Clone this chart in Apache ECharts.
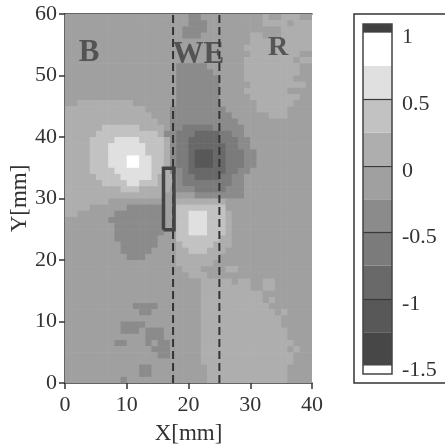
<!DOCTYPE html>
<html><head><meta charset="utf-8">
<style>html,body{margin:0;padding:0;background:#fff}#c{width:445px;height:448px;filter:blur(0.6px)}</style>
<script src="https://cdn.jsdelivr.net/npm/echarts@6/dist/echarts.min.js"></script>
</head><body><div id="c"></div>
<script>
// band edges of the colour scale and the grey of each band (code a..j)
const bandCodes = ['a','b','c','d','e','f','g','h','i','j'];
const bandLow   = [-1.5,-1.25,-1,-0.75,-0.5,-0.25,0,0.25,0.5,0.75];
const bandGrey  = ['#474747','#585858','#696969','#7b7b7b','#8b8b8b','#a0a0a0','#aeaeae','#c2c2c2','#e0e0e0','#ffffff'];
const bandWidth = 0.25;
const overColor = '#404040';
const underColor = '#ffffff';
const scaleTop = 1.065, scaleBottom = -1.5625;
const scaleTicks = [1,0.5,0,-0.5,-1,-1.5];
const xTicks = 10;
const electrodeX = [15.95,17.65,17.65,15.95,15.95];
const electrodeY = [24.9,24.9,34.9,34.9,24.9];
const weLeft = 17.5, weRight = 25;
const regionNames = ['B','WE','R'];
const regionX = [3.9,21.6,34.5];
const regionY = [53.6,53.4,54.5];
const regionSize = [31,31,28];
// measured map, one row per mm from y=59 (top) to y=0, run-length coded per mm in x
const rows = [
'f20 e2 f10 g1 f2 g3 f2','f20 e3 f9 g4 f1 g3','f19 e4 f12 g5','f19 e3 f8 g2 f3 g5','f30 g10','f29 g11',
'f30 g8 f2','f29 g8 f1 g2','f18 e5 f6 g9 f2','f18 e6 f5 g9 f2','f18 e7 f4 g8 f3','f18 e7 f5 g9 f1',
'f18 e7 f4 g7 f4','f18 e7 f5 g8 f2','f2 g9 f7 e7 f6 g6 f3','g13 f4 e9 f5 g5 f4','g14 f3 e10 f6 g3 f4','g15 f2 e11 f12',
'g6 h6 g4 f1 e2 d5 e5 f11','g5 h10 g1 e2 d3 c4 d2 e2 f11','g4 h4 i4 h4 g1 e1 d2 c5 d3 e2 f10','g4 h3 i6 h3 g1 e1 d2 c6 d2 e2 f10',
'g4 h3 i6 h3 g1 e1 d2 c1 b3 c2 d3 e2 f9','g4 h3 i3 j2 i2 h2 g1 e1 d2 c1 b3 c2 d3 e2 f9','g4 h3 i3 j2 i2 h2 g1 e1 d2 c1 b3 c2 d3 e2 f9',
'g4 h4 i6 h2 g1 e2 d1 c6 d2 e2 f10','g5 h4 i5 h1 g3 e1 d2 c4 d2 e2 f11','g6 h4 i2 h3 g3 e1 d8 e2 f11','g9 h3 g5 f1 e3 d5 e3 f11','g16 f5 e8 f11',
'g7 f11 g8 f14','g4 f6 e6 f2 h8 f14','g2 f6 e8 f2 h2 i3 h3 g1 f13','f7 e9 f2 h2 i3 h3 g1 f13','f8 e8 f2 h2 i3 h3 g1 f13',
'f8 e8 f2 h2 i3 h3 g1 f13','f8 e7 f3 h7 g2 f13','f9 e6 f3 g1 h5 g3 f13','f9 e5 f4 g2 h3 g3 f14','f10 e3 f5 g7 f15',
'f18 g6 f16','f19 g3 f4 g2 f12','f20 g3 f17','f22 g5 f1 g2 f2 g2 f6','f22 g8 f2 g2 f6','f22 g10 f8','f22 g10 f1 g1 f6',
'f11 e4 f7 g11 f7','f12 e2 f8 g12 f1 g1 f4','f22 g13 f5','f9 e4 f9 g13 f5','f9 e3 f1 e3 f6 g14 f4','f13 e3 f6 g14 f4',
'f8 e2 f3 e1 f1 e2 f5 g15 f3','f14 e3 f5 g14 f1 g1 f2','f15 e2 f5 g15 f3','f22 g15 f3','f12 e2 f9 g13 f4','f12 e2 f9 g13 f4','f9 e1 f13 g13 f4'
];

const cells = [];
rows.forEach((row, r) => {
  let x = 0;
  row.split(' ').forEach(run => {
    const i = bandCodes.indexOf(run[0]);
    const n = +run.slice(1);
    for (let k = 0; k < n; k++) { cells.push([x, 59 - r, bandLow[i] + bandWidth / 2]); x++; }
  });
});
function greyOf(v){ return bandGrey[Math.floor((v + 1.5) / bandWidth)]; }
const scaleCells = bandLow.map((lo,i)=>[lo, lo+bandWidth, bandGrey[i]]);
scaleCells.push([1, scaleTop, overColor]);
scaleCells.push([scaleBottom, -1.5, underColor]);

const font = '"Liberation Serif", serif';
const ink = '#333';
const chart = echarts.init(document.getElementById('c'), null, {renderer:'canvas'});
chart.setOption({
  animation:false, backgroundColor:'#fff',
  grid:[{left:65,top:14,width:247,height:369,outerBoundsMode:'none'},{left:363,top:24,width:29,height:350,outerBoundsMode:'none'}],
  xAxis:[
    {gridIndex:0,type:'value',min:0,max:40,interval:xTicks,name:'X[mm]',nameLocation:'middle',nameGap:39,nameMoveOverlap:false,
     nameTextStyle:{fontFamily:font,fontSize:23,color:ink},
     axisLine:{show:true,onZero:false,lineStyle:{color:ink,width:1.5}},axisTick:{show:true,length:6,lineStyle:{color:ink,width:1.5}},
     axisLabel:{fontFamily:font,fontSize:22,color:ink,margin:11,hideOverlap:false,showMinLabel:true,showMaxLabel:true},splitLine:{show:false}},
    {gridIndex:0,type:'value',min:0,max:40,position:'top',axisLine:{show:true,onZero:false,lineStyle:{color:'#333',width:1.5}},axisTick:{show:false},axisLabel:{show:false},splitLine:{show:false}},
    {gridIndex:1,type:'value',min:0,max:1,show:false}
  ],
  yAxis:[
    {gridIndex:0,type:'value',min:0,max:60,interval:xTicks,name:'Y[mm]',nameLocation:'middle',nameGap:34,nameMoveOverlap:false,
     nameTextStyle:{fontFamily:font,fontSize:23,color:ink},
     axisLine:{show:true,onZero:false,lineStyle:{color:ink,width:1.5}},axisTick:{show:true,length:6,lineStyle:{color:ink,width:1.5}},
     axisLabel:{fontFamily:font,fontSize:22,color:ink,margin:8,hideOverlap:false,showMinLabel:true,showMaxLabel:true},splitLine:{show:false}},
    {gridIndex:1,type:'value',min:scaleBottom,max:scaleTop,position:'right',
     axisLine:{show:false},
     axisTick:{show:false},
     axisLabel:{show:true,customValues:scaleTicks,fontFamily:font,fontSize:22,color:ink,margin:10,verticalAlign:'top',padding:[-6,0,0,0],hideOverlap:false},
     splitLine:{show:false}}
  ],
  series:[
    {type:'custom',xAxisIndex:0,yAxisIndex:0,clip:true,silent:true,z:1,data:cells,encode:{x:0,y:1},
     renderItem:(p,api)=>{
       const a=api.coord([api.value(0),api.value(1)+1]), s=api.size([1,1]);
       return {type:'rect',shape:{x:a[0],y:a[1],width:s[0]+0.6,height:s[1]+0.6},style:{fill:greyOf(api.value(2))}};
     }},
    {type:'custom',xAxisIndex:2,yAxisIndex:1,silent:true,z:1,data:scaleCells.map(c=>[c[0],c[1],c[2]]),encode:{y:[0,1]},
     renderItem:(p,api)=>{
       const c=scaleCells[p.dataIndex];
       const a=api.coord([0,c[1]]), b=api.coord([1,c[0]]);
       return {type:'rect',shape:{x:a[0],y:a[1],width:b[0]-a[0],height:b[1]-a[1]},style:{fill:c[2]}};
     }},
    {type:'line',xAxisIndex:2,yAxisIndex:1,silent:true,z:2,symbol:'none',data:[],
     markLine:{silent:true,symbol:'none',label:{show:false},animation:false,lineStyle:{color:'#3a3a3a',type:'solid',width:1.2},
       data:scaleTicks.slice(1,5).map(v=>({yAxis:v}))}},
    {type:'line',xAxisIndex:0,yAxisIndex:0,silent:true,z:3,symbol:'none',data:[[weLeft,0],[weLeft,60]],lineStyle:{color:'#333',width:2,type:[8,4]}},
    {type:'line',xAxisIndex:0,yAxisIndex:0,silent:true,z:3,symbol:'none',data:[[weRight,0],[weRight,60]],lineStyle:{color:'#333',width:2,type:[8,4]}},
    {type:'line',xAxisIndex:0,yAxisIndex:0,silent:true,z:4,symbol:'none',data:electrodeX.map((x,i)=>[x,electrodeY[i]]),lineStyle:{color:'#444',width:3.5,join:'miter'}},
    {type:'scatter',xAxisIndex:0,yAxisIndex:0,silent:true,z:5,symbolSize:0,
     data:regionNames.map((n,i)=>({value:[regionX[i],regionY[i]],name:n,label:{fontSize:regionSize[i]}})),
     label:{show:true,position:'inside',fontFamily:font,fontWeight:'bold',color:'#404040',formatter:p=>p.name}}
  ],
  graphic:[
    {type:'polyline',z:10,silent:true,shape:{points:[[445,14],[354,14],[354,383],[445,383]]},style:{fill:null,stroke:'#333',lineWidth:1.5}},
    {type:'rect',z:10,silent:true,shape:{x:363,y:24,width:29,height:350},style:{fill:null,stroke:'#444',lineWidth:1.5}}
  ]
});
</script></body></html>
